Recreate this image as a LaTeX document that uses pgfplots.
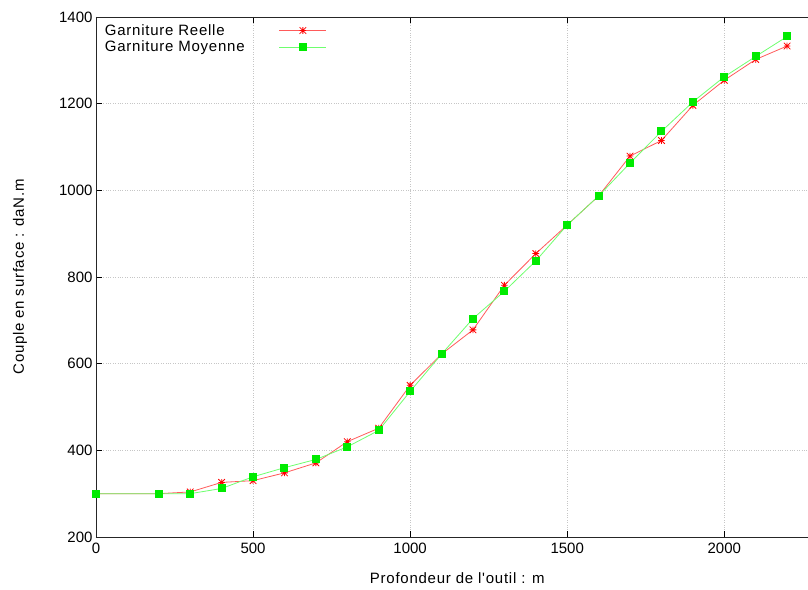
\documentclass[border=0pt]{standalone}
\usepackage{fontspec}
\setmainfont{Liberation Sans}
\newfontfamily\lblfont[LetterSpace=5]{Liberation Sans}
\usepackage{pgfplots}
\pgfplotsset{compat=1.18}
\definecolor{gpred}{RGB}{255,0,0}
\definecolor{gpredl}{RGB}{255,90,90}
\definecolor{gpgreen}{RGB}{0,235,0}
\definecolor{gpgreenl}{RGB}{110,255,110}
\pgfdeclareplotmark{gpstar}{%
  \pgfpathmoveto{\pgfqpoint{-\pgfplotmarksize}{0pt}}\pgfpathlineto{\pgfqpoint{\pgfplotmarksize}{0pt}}%
  \pgfpathmoveto{\pgfqpoint{0pt}{-\pgfplotmarksize}}\pgfpathlineto{\pgfqpoint{0pt}{\pgfplotmarksize}}%
  \pgfpathmoveto{\pgfqpoint{-\pgfplotmarksize}{-\pgfplotmarksize}}\pgfpathlineto{\pgfqpoint{\pgfplotmarksize}{\pgfplotmarksize}}%
  \pgfpathmoveto{\pgfqpoint{-\pgfplotmarksize}{\pgfplotmarksize}}\pgfpathlineto{\pgfqpoint{\pgfplotmarksize}{-\pgfplotmarksize}}%
  \pgfusepathqstroke}
\begin{document}
\begin{tikzpicture}
\begin{axis}[
  scale only axis, width=722.5pt, height=520pt,
  xmin=0, xmax=2300, ymin=200, ymax=1400,
  xtick={0,500,1000,1500,2000}, ytick={200,400,...,1400},
  /pgf/number format/assume math mode=true,
  /pgf/number format/1000 sep={},
  tick label style={font=\fontsize{15}{17}\selectfont},
  xticklabel style={yshift=-2pt},
  grid=major, grid style={dotted, gray!45, line width=0.6pt},
  tick align=inside, major tick length=6pt,
  axis line style={line width=0.9pt, black!85},
  every tick/.style={black, line width=0.9pt},
  xlabel={\lblfont Profondeur de l'outil : m},
  ylabel={\lblfont Couple en surface : daN.m},
  label style={font=\fontsize{15}{17}\selectfont},
  xlabel style={at={(axis description cs:0.5,-0.079)}, anchor=center},
  ylabel style={at={(axis description cs:-0.1051,0.5)}, anchor=center},
  legend style={draw=none, fill=none, at={(axis description cs:0.008,0.992)}, anchor=north west,
     font=\fontsize{15}{16}\selectfont, row sep=0pt, inner sep=1pt},
  legend cell align=left, legend plot pos=right,
  legend image code/.code={\draw[mark repeat=2,mark phase=2,#1] plot coordinates {(0pt,0pt) (23.5pt,0pt) (47pt,0pt)};},
]
\addplot[color=gpredl, line width=0.8pt, mark=gpstar, mark size=3.3pt, mark options={gpred, line width=0.8pt}] coordinates {
(0,300) (200,300) (300,304) (400,326) (500,330) (600,348) (700,371) (800,420) (900,451)
(1000,550) (1100,622) (1200,678) (1300,781) (1400,854) (1500,920) (1600,987) (1700,1079)
(1800,1115) (1900,1196) (2000,1254) (2100,1302) (2200,1333)};
\addlegendentry{\makebox[172pt][l]{\lblfont Garniture Reelle}}
\addplot[color=gpgreenl, line width=0.8pt, mark=square*, mark size=3.5pt, mark options={gpgreen, fill=gpgreen, line width=0pt}] coordinates {
(0,300) (200,300) (300,300) (400,312) (500,339) (600,360) (700,379) (800,408) (900,446)
(1000,536) (1100,622) (1200,704) (1300,767) (1400,837) (1500,920) (1600,987) (1700,1063)
(1800,1136) (1900,1204) (2000,1262) (2100,1309) (2200,1355)};
\addlegendentry{\makebox[172pt][l]{\lblfont Garniture Moyenne}}
\end{axis}
\pgfresetboundingbox
\path (-96pt,-52pt) rectangle (712pt,537pt);
\end{tikzpicture}
\end{document}
